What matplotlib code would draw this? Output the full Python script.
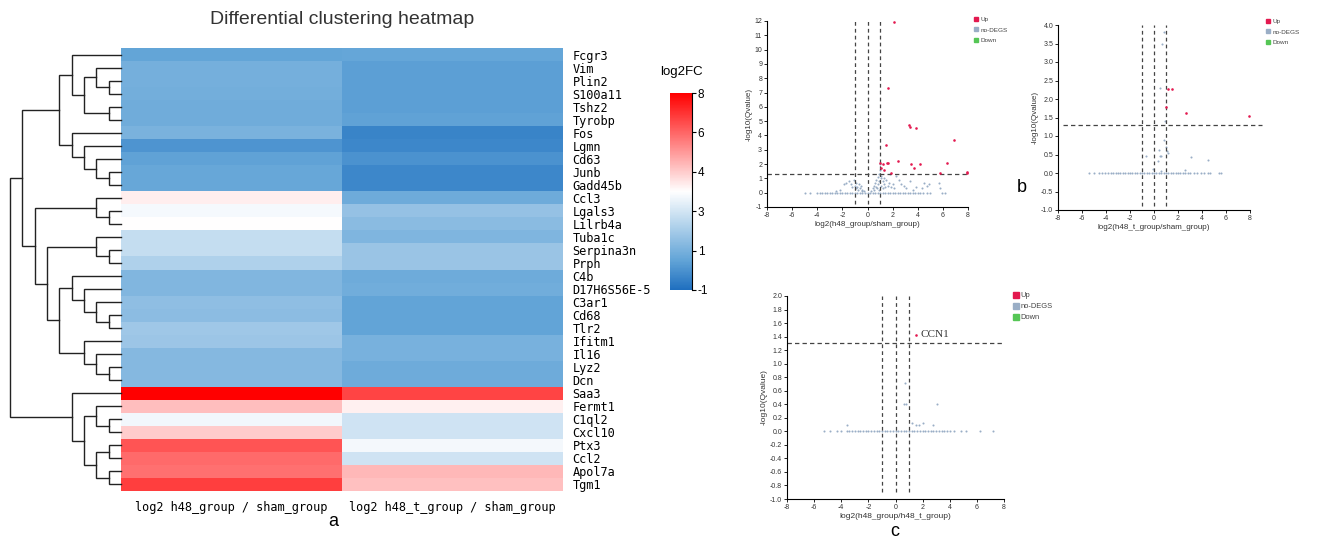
import numpy as np
import matplotlib
matplotlib.use('Agg')
import matplotlib.pyplot as plt
from matplotlib.colors import LinearSegmentedColormap, FuncNorm
from matplotlib.lines import Line2D

plt.rcParams['font.family'] = ['Liberation Sans', 'DejaVu Sans']

# ---------------- heatmap data ----------------
genes = ['Fcgr3', 'Vim', 'Plin2', 'S100a11', 'Tshz2', 'Tyrobp', 'Fos', 'Lgmn',
         'Cd63', 'Junb', 'Gadd45b', 'Ccl3', 'Lgals3', 'Lilrb4a', 'Tuba1c',
         'Serpina3n', 'Prph', 'C4b', 'D17H6S56E-5', 'C3ar1', 'Cd68', 'Tlr2',
         'Ifitm1', 'Il16', 'Lyz2', 'Dcn', 'Saa3', 'Fermt1', 'C1ql2', 'Cxcl10',
         'Ptx3', 'Ccl2', 'Apol7a', 'Tgm1']
fc_h48_sham = [0.55, 0.95, 0.95, 0.88, 0.8, 0.8, 1.04, 0.09, 0.47, 0.64, 0.64,
               3.67, 3.39, 3.5, 2.71, 2.71, 2.22, 1.22, 1.22, 1.53, 1.44, 1.89,
               1.8, 1.29, 1.29, 1.29, 8.0, 4.25, 3.36, 4.0, 6.33, 5.92, 5.8, 6.75]
fc_h48t_sham = [0.58, 0.38, 0.38, 0.38, 0.38, 0.45, -0.38, -0.33, -0.02, -0.33,
                -0.33, 0.78, 1.62, 1.42, 1.16, 1.76, 1.76, 0.78, 0.87, 0.51, 0.51,
                0.51, 1.02, 1.02, 0.78, 0.78, 6.67, 3.65, 2.93, 2.93, 3.37, 2.93,
                4.39, 4.24]
col_labels = ['log2 h48_group / sham_group', 'log2 h48_t_group / sham_group']
cbar_ticks = [-1, 1, 3, 4, 6, 8]

# dendrogram: (left, right, merge level), leaves are row indices
top_clade = ((0, ((1, (2, 3, 1), 2), (4, 5, 1), 3), 4),
             (6, (7, (8, (9, 10, 1), 2), 3), 4), 5)
mid_clade = ((11, (12, 13, 1), 2),
             ((14, (15, 16, 1), 2),
              ((17, (18, (19, (20, 21, 1), 2), 3), 4),
               (22, (23, (24, 25, 1), 2), 3), 5), 6), 7)
low_clade = (26, ((27, (28, 29, 1), 2), ((30, 31, 1), (32, 33, 1), 2), 3), 4)
tree = ((top_clade, mid_clade, 8), low_clade, 9)

# ---------------- volcano data ----------------
up_color, ns_color, down_color = '#e3194f', '#9aaec6', '#55c655'

a_base_x = [-5.0, -4.6, -4.0, -3.8, -3.6, -3.4, -3.2, -3.0, -2.8, -2.6, -2.4,
            -2.2, -2.0, -1.8, -1.6, -1.4, -1.2, -1.0, -0.8, -0.6, -0.4, -0.2,
            0.0, 0.2, 0.4, 0.6, 0.8, 1.0, 1.2, 1.4, 1.6, 1.8, 2.0, 2.2, 2.4,
            2.6, 2.8, 3.0, 3.2, 3.4, 3.6, 3.8, 4.0, 4.2, 4.4, 4.7, 5.0, 5.9, 6.2]
a_ns = [(-2.5, 0.1), (-2.2, 0.2), (-1.9, 0.6), (-1.7, 0.7), (-1.5, 0.8),
        (-1.3, 0.6), (-1.2, 0.4), (-1.1, 0.9), (-1.0, 0.5), (-0.95, 0.3),
        (-0.9, 0.7), (-0.8, 0.4), (-0.75, 0.2), (-0.7, 0.6), (-0.6, 0.3),
        (-0.5, 0.5), (-0.45, 0.2), (-0.4, 0.1), (-0.3, 0.15), (0.3, 0.1),
        (0.4, 0.3), (0.5, 0.5), (0.55, 0.2), (0.6, 0.7), (0.65, 0.4),
        (0.7, 0.9), (0.75, 0.3), (0.8, 1.1), (0.85, 0.6), (0.9, 1.3),
        (0.9, 0.2), (0.95, 0.8), (1.0, 2.0), (1.0, 1.6), (1.05, 1.0),
        (1.1, 0.5), (1.1, 1.2), (1.2, 0.8), (1.25, 0.3), (1.3, 1.0),
        (1.35, 0.6), (1.4, 0.4), (1.5, 0.9), (1.6, 0.5), (1.7, 0.7),
        (1.8, 1.3), (1.9, 0.4), (2.0, 0.6), (2.1, 0.3), (2.3, 1.2),
        (2.5, 0.9), (2.7, 0.6), (2.9, 0.5), (3.1, 0.3), (3.4, 0.8),
        (3.6, 0.2), (3.9, 0.4), (4.3, 0.3), (4.5, 0.7), (4.7, 0.5),
        (4.9, 0.6), (5.7, 0.7), (5.8, 0.35)]
a_up = [(2.1, 11.9), (1.6, 7.3), (3.3, 4.7), (3.35, 4.6), (3.85, 4.55),
        (1.45, 3.35), (6.85, 3.65), (2.4, 2.2), (1.0, 2.1), (1.2, 2.0),
        (1.55, 2.05), (1.65, 2.1), (3.45, 2.0), (4.2, 2.0), (6.3, 2.05),
        (3.7, 1.7), (1.05, 1.75), (1.3, 1.6), (1.85, 1.35), (5.8, 1.35),
        (7.9, 1.45), (7.9, 1.38)]

b_base_x = [-5.4, -5.0, -4.6, -4.3, -4.1, -3.8, -3.6, -3.4, -3.2, -3.0, -2.8,
            -2.6, -2.4, -2.2, -2.0, -1.8, -1.6, -1.4, -1.2, -1.0, -0.8, -0.6,
            -0.4, -0.2, 0.0, 0.2, 0.4, 0.6, 0.8, 1.0, 1.2, 1.4, 1.6, 1.8, 2.0,
            2.2, 2.4, 2.6, 2.8, 3.0, 3.3, 3.6, 3.9, 4.2, 4.5, 4.7, 5.4, 5.6]
b_ns = [(0.8, 3.8), (0.7, 3.5), (0.5, 2.3), (0.9, 1.4), (0.8, 0.9), (1.0, 0.7),
        (0.4, 0.62), (1.1, 0.6), (0.5, 0.45), (0.6, 0.45), (0.3, 0.33),
        (-0.7, 0.45), (-0.1, 0.12), (3.1, 0.42), (4.5, 0.35), (0.6, 0.06),
        (2.6, 0.08), (1.15, 0.55)]
b_up = [(1.2, 2.28), (1.5, 2.28), (1.0, 1.78), (2.7, 1.63), (7.9, 1.55)]

c_base_x = [-5.3, -4.8, -4.3, -4.0, -3.6, -3.4, -3.2, -3.0, -2.8, -2.6, -2.4,
            -2.2, -2.0, -1.8, -1.6, -1.4, -1.2, -1.0, -0.8, -0.6, -0.4, -0.2,
            0.0, 0.2, 0.4, 0.6, 0.8, 1.0, 1.2, 1.4, 1.6, 1.8, 2.0, 2.2, 2.4,
            2.6, 2.8, 3.0, 3.2, 3.4, 3.6, 3.8, 4.0, 4.3, 4.8, 5.2, 6.2, 7.2]
c_ns = [(0.7, 0.71), (0.65, 0.4), (0.8, 0.4), (3.05, 0.4), (-3.6, 0.1),
        (1.2, 0.12), (1.5, 0.09), (1.7, 0.09), (2.0, 0.12), (2.8, 0.1)]
c_up = [(1.5, 1.43)]
c_up_names = ['CCN1']

fc_cut = [-1, 0, 1]
q_cut = 1.3

# ---------------- figure ----------------
W, H = 1320, 547
fig = plt.figure(figsize=(W / 100, H / 100), dpi=100)


def px_axes(x0, y0, x1, y1):
    return fig.add_axes([x0 / W, 1 - y1 / H, (x1 - x0) / W, (y1 - y0) / H])


# heatmap
cmap = LinearSegmentedColormap.from_list(
    'bwr_fc', [(0, '#1f6fbf'), (0.15, '#62a4d7'), (0.5, '#ffffff'), (1, '#ff0000')])
pos = np.linspace(0, 1, len(cbar_ticks))
norm = FuncNorm((lambda v: np.interp(v, cbar_ticks, pos),
                 lambda p: np.interp(p, pos, cbar_ticks)), vmin=-1, vmax=8)

ax = px_axes(121, 48, 563, 491)
data = np.array([fc_h48_sham, fc_h48t_sham]).T
mesh = ax.pcolormesh(data, cmap=cmap, norm=norm)
ax.set_ylim(len(genes), 0)
ax.set_xlim(0, 2)
ax.yaxis.tick_right()
ax.set_yticks(np.arange(len(genes)) + 0.5)
ax.set_yticklabels(genes, family='DejaVu Sans Mono', fontsize=8.6)
ax.set_xticks([0.5, 1.5])
ax.set_xticklabels(col_labels, family='DejaVu Sans Mono', fontsize=8.6)
ax.tick_params(length=0, pad=7)
for s in ax.spines.values():
    s.set_visible(False)

fig.text(342 / W, 1 - 20 / H, 'Differential clustering heatmap',
         ha='center', va='center', fontsize=14, color='#333333')
fig.text(333 / W, 1 - 522 / H, 'a', ha='center', va='center', fontsize=13)

# dendrogram
dax = px_axes(4, 48, 121, 491)
dax.set_ylim(len(genes), 0)
dax.set_xlim(9.5, 0)
dax.axis('off')


def draw(node):
    if isinstance(node, int):
        return node + 0.5, 0
    left, right, h = node
    yl, hl = draw(left)
    yr, hr = draw(right)
    dax.plot([hl, h, h, hr], [yl, yl, yr, yr], color='#222222', lw=1.0,
             clip_on=False, solid_joinstyle='miter')
    return (yl + yr) / 2, h


draw(tree)

# colorbar
cax = px_axes(670, 93, 692, 290)
cb = fig.colorbar(mesh, cax=cax, ticks=cbar_ticks)
cb.set_ticklabels([str(t) for t in cbar_ticks])
cb.outline.set_visible(False)
cax.spines['right'].set_visible(True)
cax.spines['right'].set_linewidth(0.8)
cax.tick_params(labelsize=8.5, length=3, width=0.8, pad=1)
fig.text(681 / W, 1 - 72 / H, 'log2FC', ha='center', va='center', fontsize=9.5)


# volcano plots
def volcano(box, base_x, ns, up, xlabel, yticks, ylabels, ylim, vspan, hspan,
            tick_fs, lab_fs):
    vx = px_axes(*box)
    vx.scatter(base_x, np.zeros(len(base_x)), s=2.2, color=ns_color, lw=0)
    vx.scatter([p[0] for p in ns], [p[1] for p in ns], s=2.2, color=ns_color, lw=0)
    vx.scatter([p[0] for p in up], [p[1] for p in up], s=3.5, color=up_color,
               lw=0, clip_on=False, zorder=3)
    for c in fc_cut:
        vx.plot([c, c], vspan, color='#444444', lw=0.9, ls=(0, (3, 2.5)), zorder=1)
    vx.plot(hspan, [q_cut, q_cut], color='#444444', lw=0.9, ls=(0, (3.5, 2.5)),
            clip_on=False, zorder=1)
    vx.set_xlim(-8, 8)
    vx.set_ylim(*ylim)
    vx.set_xticks(range(-8, 9, 2))
    vx.set_xticklabels([str(t) for t in range(-8, 9, 2)])
    vx.set_yticks(yticks)
    vx.set_yticklabels(ylabels)
    for s in ['top', 'right']:
        vx.spines[s].set_visible(False)
    for s in ['left', 'bottom']:
        vx.spines[s].set_linewidth(0.8)
    vx.tick_params(labelsize=tick_fs, length=2, width=0.6, pad=1.5,
                   labelcolor='#333333')
    vx.set_xlabel(xlabel, fontsize=lab_fs, labelpad=1.5, color='#333333')
    vx.set_ylabel('-log10(Qvalue)', fontsize=lab_fs, labelpad=1.5, color='#333333')
    return vx


def legend(x, y, fs, ms, spacing):
    handles = [Line2D([], [], marker='s', ls='', color=c, markersize=ms)
               for c in (up_color, ns_color, down_color)]
    fig.legend(handles, ['Up', 'no-DEGS', 'Down'], loc='upper left',
               bbox_to_anchor=(x / W, 1 - y / H), frameon=False, fontsize=fs,
               handletextpad=0.3, labelspacing=spacing, borderaxespad=0,
               borderpad=0, handlelength=0.7, labelcolor='#444444')


ya = list(range(-1, 13))
volcano((767, 21, 968, 207), a_base_x, a_ns, a_up,
        'log2(h48_group/sham_group)', ya, [str(t) for t in ya], (-1, 12),
        [-0.8, 12], [-8, 8.1], 5, 5.8)
legend(974, 17, 4.6, 3.2, 0.75)

yb = [-1.0, -0.5, 0.0, 0.5, 1.0, 1.5, 2.0, 2.5, 3.0, 3.5, 4.0]
volcano((1058, 25, 1250, 210), b_base_x, b_ns, b_up,
        'log2(h48_t_group/sham_group)', yb, ['%.1f' % t for t in yb], (-1, 4),
        [-0.9, 4.0], [-7.6, 9.0], 5, 5.8)
legend(1266, 19, 4.6, 3.2, 0.75)
fig.text(1022 / W, 1 - 188 / H, 'b', ha='center', va='center', fontsize=13)

yc = [-1.0, -0.8, -0.6, -0.4, -0.2, 0.0, 0.2, 0.4, 0.6, 0.8, 1.0, 1.2, 1.4,
      1.6, 1.8, 2.0]
vc = volcano((787, 296, 1004, 499), c_base_x, c_ns, c_up,
             'log2(h48_group/h48_t_group)', yc, ['%.1f' % t for t in yc],
             (-1, 2), [-0.9, 2.0], [-8, 8], 5, 6)
for (x, y), name in zip(c_up, c_up_names):
    vc.text(x + 0.35, y, name, family=['Liberation Serif', 'DejaVu Serif'],
            fontsize=8, va='center', ha='left', color='#333333')
legend(1013, 292, 5.4, 3.8, 0.5)
fig.text(895 / W, 1 - 532 / H, 'c', ha='center', va='center', fontsize=13)

fig.savefig('out.png', dpi=100)
